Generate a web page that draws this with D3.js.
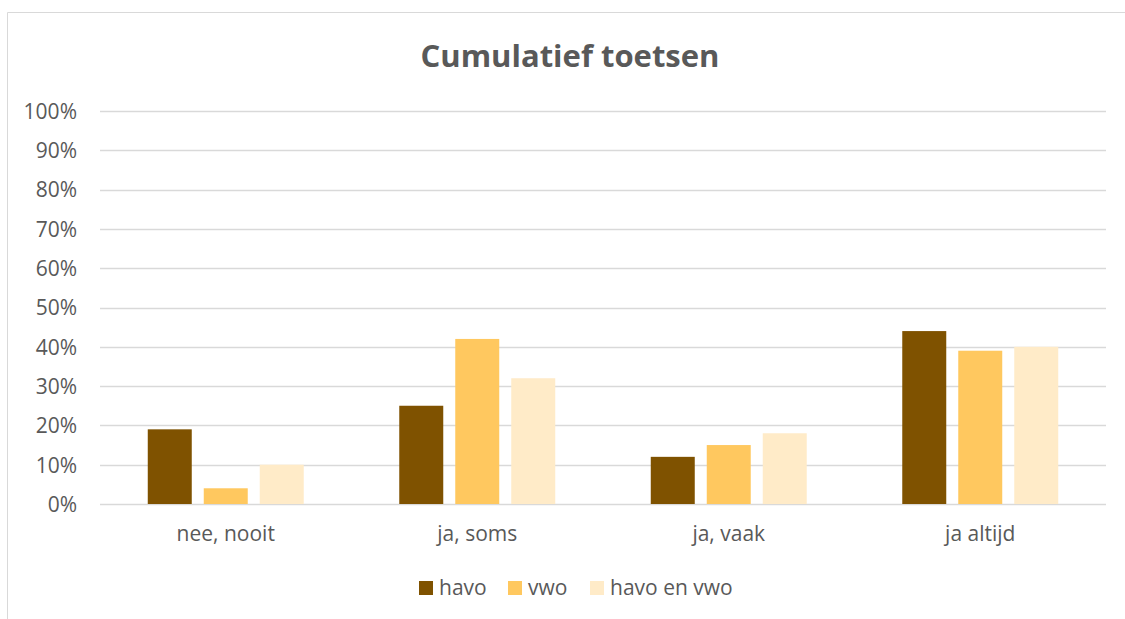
<!DOCTYPE html>
<html>
<head>
<meta charset="utf-8">
<script src="https://cdn.jsdelivr.net/npm/d3@7"></script>
<style>
  body { margin:0; background:#fff; }
  text { font-family:"Open Sans", sans-serif; fill:#595959; }
  .title { font-weight:bold; font-size:31px; }
  .tick text { font-size:21px; }
  .legend text { font-size:21px; }
</style>
</head>
<body>
<svg id="chart"></svg>
<script>
var categories = ["nee, nooit", "ja, soms", "ja, vaak", "ja altijd"]
var series = ["havo", "vwo", "havo en vwo"]
var havo = [0.19, 0.25, 0.12, 0.44]
var vwo = [0.04, 0.42, 0.15, 0.39]
var havoEnVwo = [0.10, 0.32, 0.18, 0.40]
var yTicks = [0, 0.1, 0.2, 0.3, 0.4, 0.5, 0.6, 0.7, 0.8, 0.9, 1.0]
var colors = ["#7f5200", "#ffc85f", "#ffebc8"]

var screen = {width:1125, height:619}
var margins = {left:100, right:19, top:111, bottom:115}
var graph = {
    width: screen.width - margins.left - margins.right,
    height: screen.height - margins.top - margins.bottom
}

var svg = d3.select("#chart")
    .attr("width", screen.width)
    .attr("height", screen.height)

// chart border (right/bottom fall outside the crop)
svg.append("path")
    .attr("d", "M7.5,619 L7.5,12.5 L1125,12.5")
    .attr("fill", "none")
    .attr("stroke", "#d9d9d9")
    .attr("stroke-width", 1)

svg.append("text")
    .classed("title", true)
    .attr("text-anchor", "middle")
    .attr("x", 570)
    .attr("y", 67)
    .text("Cumulatief toetsen")

var target = svg.append("g")
    .attr("transform", "translate(" + margins.left + "," + margins.top + ")")

var x0 = d3.scaleBand()
    .domain(categories)
    .range([0, graph.width])

var x1 = d3.scaleBand()
    .domain(series)
    .range([0, x0.bandwidth()])
    .paddingInner(12 / 56)
    .paddingOuter(0.853)

var yScale = d3.scaleLinear()
    .domain([0, 1])
    .range([graph.height, 0])

// gridlines
target.append("g")
    .selectAll("line")
    .data(yTicks)
    .enter()
    .append("line")
    .attr("x1", 0)
    .attr("x2", graph.width)
    .attr("y1", function(d) { return Math.round(yScale(d)) + 0.5 })
    .attr("y2", function(d) { return Math.round(yScale(d)) + 0.5 })
    .attr("stroke", "#d9d9d9")
    .attr("stroke-width", 1.5)

var yAxis = d3.axisLeft(yScale)
    .tickValues(yTicks)
    .tickFormat(d3.format(".0%"))
    .tickSize(0)
    .tickPadding(23)
target.append("g")
    .call(yAxis)
    .call(function(g) { g.select(".domain").remove() })
    .selectAll("text")
    .attr("dy", "0.35em")

var xAxis = d3.axisBottom(x0).tickSize(0).tickPadding(22)
target.append("g")
    .attr("transform", "translate(0," + graph.height + ")")
    .call(xAxis)
    .call(function(g) { g.select(".domain").remove() })

var rows = categories.map(function(c, i) {
    return {category: c, values: [havo[i], vwo[i], havoEnVwo[i]]}
})

var groups = target.selectAll(".group")
    .data(rows)
    .enter()
    .append("g")
    .attr("transform", function(d) { return "translate(" + x0(d.category) + ",0)" })

groups.selectAll("rect")
    .data(function(d) { return d.values.map(function(v, j) { return {s: series[j], v: v, j: j} }) })
    .enter()
    .append("rect")
    .attr("x", function(d) { return x1(d.s) })
    .attr("y", function(d) { return yScale(d.v) })
    .attr("width", x1.bandwidth())
    .attr("height", function(d) { return graph.height - yScale(d.v) })
    .attr("fill", function(d) { return colors[d.j] })

// legend
var legendX = [419, 508, 590]
var legend = svg.append("g").classed("legend", true)
var items = legend.selectAll("g")
    .data(series)
    .enter()
    .append("g")
    .attr("transform", function(d, i) { return "translate(" + legendX[i] + ",581)" })
items.append("rect")
    .attr("width", 14)
    .attr("height", 14)
    .attr("fill", function(d, i) { return colors[i] })
items.append("text")
    .attr("x", 20)
    .attr("y", 7)
    .attr("dy", "0.35em")
    .text(function(d) { return d })
</script>
</body>
</html>
